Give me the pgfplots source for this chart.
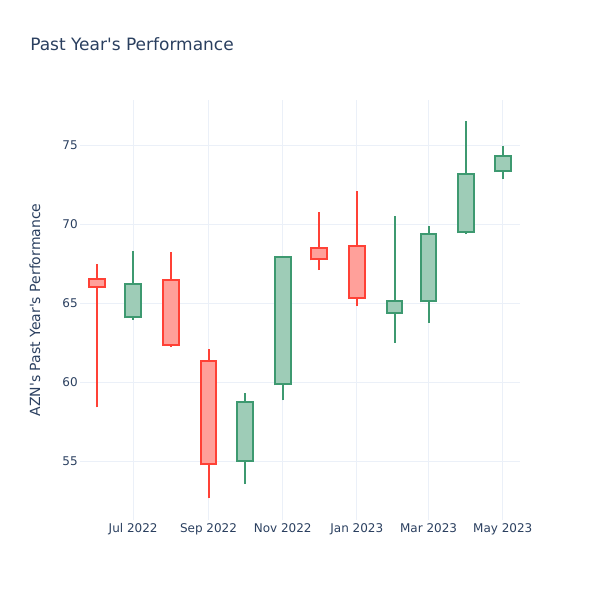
\documentclass[border=0pt]{standalone}
\usepackage{pgfplots}
\usepackage{pgfplotstable}
\pgfplotsset{compat=1.18}
\usepackage{fontspec}
\setmainfont{DejaVu Sans}
\definecolor{inc}{HTML}{3D9970}
\definecolor{dec}{HTML}{FF4136}
\definecolor{txt}{HTML}{2A3F5F}
\definecolor{grd}{HTML}{EBF0F8}
% x = days since 1 Jul 2022
\pgfplotstableread{
x    open   high   low    close
0    64.11  68.33  63.95  66.22
92   55.06  59.31  53.57  58.78
123  59.88  68.00  58.87  67.95
215  64.41  70.53  62.52  65.15
243  65.13  69.88  63.78  69.38
274  69.49  76.52  69.36  73.17
304  73.34  74.94  72.85  74.33
}\uptable
\pgfplotstableread{
x    open   high   low    close
-30  66.53  67.48  58.43  66.05
31   66.49  68.22  62.24  62.37
62   61.36  62.13  52.68  54.83
153  68.51  70.79  67.10  67.78
184  68.64  72.09  64.83  65.33
}\downtable
\pgfplotsset{
  wick/.style={draw=none, mark=none, error bars/.cd, y dir=plus, y explicit, error mark=none,
     error bar style={draw=#1, line width=1.5pt}},
  bodyout/.style={draw=none, mark=none, error bars/.cd, y dir=plus, y explicit, error mark=none,
     error bar style={draw=#1, line width=13.3pt, shorten <=-0.75pt, shorten >=-0.75pt}},
  bodyin/.style={draw=none, mark=none, error bars/.cd, y dir=plus, y explicit, error mark=none,
     error bar style={draw=#1!50!white, line width=10.3pt, shorten <=0.75pt, shorten >=0.75pt}},
}
\newcommand{\q}{\textquotesingle}
\begin{document}
\begin{tikzpicture}
\path[use as bounding box] (0,0) rectangle (450pt,450pt);
\node[anchor=west, text=txt, font=\fontsize{12.75pt}{15pt}\selectfont, inner sep=0pt] at (22.5pt,417pt) {Past Year\q s Performance};
\begin{axis}[
  at={(60pt,60pt)}, anchor=south west,
  scale only axis, width=330pt, height=315pt,
  xmin=-43.7, xmax=318.2, ymin=51.31, ymax=77.85,
  axis line style={draw=none},
  major tick length=0pt,
  grid=major, major grid style={grd, line width=0.75pt},
  xtick={0,62,123,184,243,304},
  xticklabels={Jul 2022,Sep 2022,Nov 2022,Jan 2023,Mar 2023,May 2023},
  ytick={55,60,65,70,75},
  tick label style={text=txt, font=\fontsize{9pt}{11pt}\selectfont},
  /pgf/number format/assume math mode=true,
  yticklabel style={inner sep=1.5pt},
  xticklabel style={inner sep=2.5pt},
  ylabel={AZN\q s Past Year\q s Performance},
  every axis y label/.style={at={(axis description cs:-0.1023,0.5)}, rotate=90, anchor=center, text=txt, font=\fontsize{10.5pt}{12pt}\selectfont},
]
% wicks (low to high)
\addplot[wick=inc] table[x=x, y=low, y error expr={\thisrow{high}-\thisrow{low}}] {\uptable};
\addplot[wick=dec] table[x=x, y=low, y error expr={\thisrow{high}-\thisrow{low}}] {\downtable};
% bodies (open to close)
\addplot[bodyout=inc] table[x=x, y=open, y error expr={\thisrow{close}-\thisrow{open}}] {\uptable};
\addplot[bodyin=inc] table[x=x, y=open, y error expr={\thisrow{close}-\thisrow{open}}] {\uptable};
\addplot[bodyout=dec] table[x=x, y=close, y error expr={\thisrow{open}-\thisrow{close}}] {\downtable};
\addplot[bodyin=dec] table[x=x, y=close, y error expr={\thisrow{open}-\thisrow{close}}] {\downtable};
\end{axis}
\end{tikzpicture}
\end{document}
